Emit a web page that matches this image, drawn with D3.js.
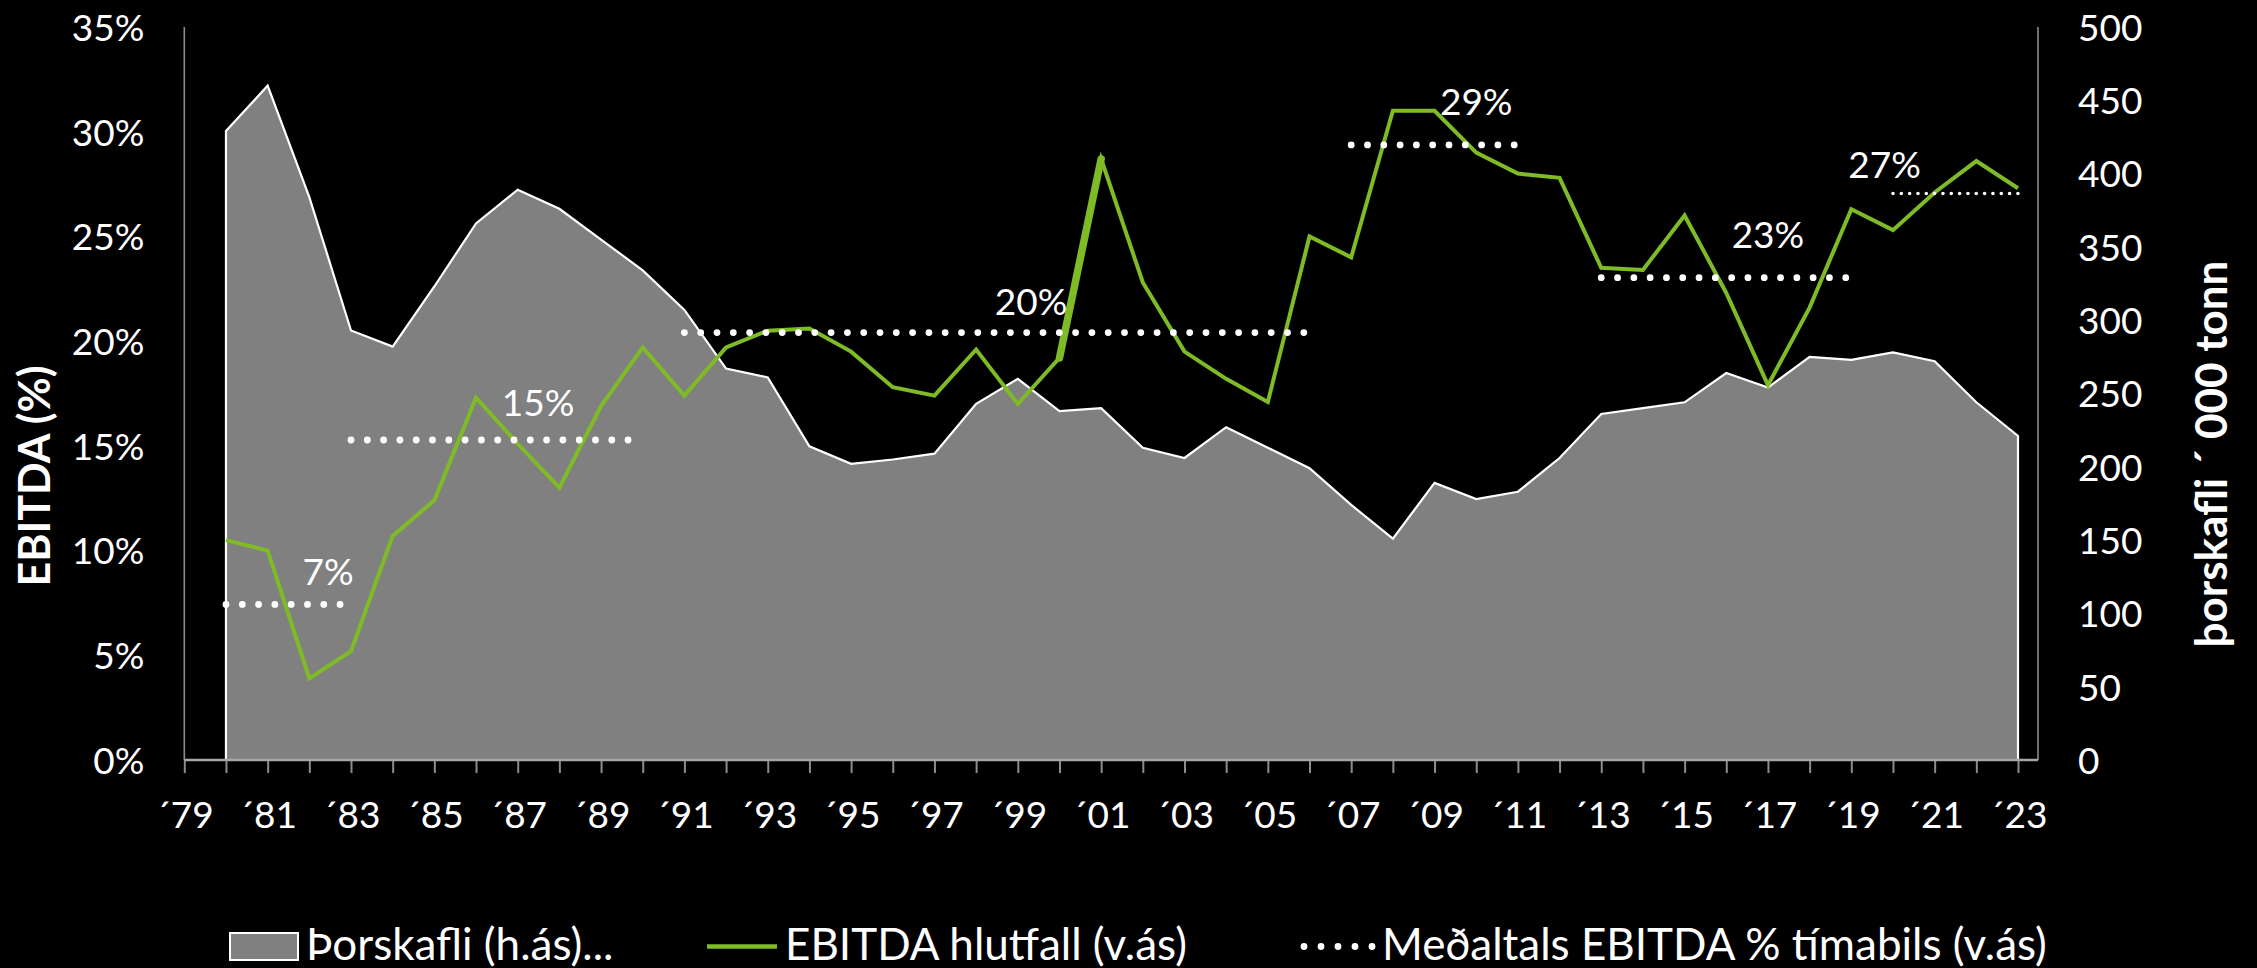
<!DOCTYPE html>
<html><head><meta charset="utf-8">
<script src="https://cdn.jsdelivr.net/npm/d3@7/dist/d3.min.js"></script>
<style>
html,body{margin:0;padding:0;background:#000;}
svg{display:block;font-family:Lato,"Open Sans",sans-serif;}
</style>
</head><body>
<svg id="chart" width="2257" height="968"></svg>
<script>
// ---------- DATA ----------
const years = [1980,1981,1982,1983,1984,1985,1986,1987,1988,1989,1990,1991,1992,1993,1994,1995,1996,1997,1998,1999,2000,2001,2002,2003,2004,2005,2006,2007,2008,2009,2010,2011,2012,2013,2014,2015,2016,2017,2018,2019,2020,2021,2022,2023];
// Þorskafli ('000 tonn), right axis
const codCatch = [429,460,384,293,282,323,366,389,376,355,334,307,267,261,214,202,205,209,243,260,238,240,213,206,227,213,199,174,151,189,178,183,206,236,240,244,264,254,275,273,278,272,244,221];
// EBITDA hlutfall (%), left axis
const ebitdaPct = [10.5,10.0,3.9,5.2,10.7,12.4,17.3,15.1,13.0,16.9,19.7,17.4,19.7,20.5,20.6,19.5,17.8,17.4,19.6,17.0,19.2,28.7,22.8,19.5,18.2,17.1,25.0,24.0,31.0,31.0,29.0,28.0,27.8,23.5,23.4,26.0,22.3,17.9,21.6,26.3,25.3,27.1,28.6,27.3];
// emphasised segment of the EBITDA line
const emphasisYears = [2000,2001];
// Meðaltals EBITDA % tímabils
const avgStart = [1980,1983,1991,2007,2013,2020];
const avgEnd   = [1983,1990,2006,2011,2019,2023];
const avgValue = [7.43,15.28,20.41,29.37,23.03,27.05];
const avgLabel = ["7%","15%","20%","29%","23%","27%"];
const avgLabelYear  = [1982.45,1987.49,1999.32,2010.0,2017.0,2019.8];
const avgLabelLevel = [8.99,17.05,21.88,31.43,25.07,28.41];
// axes
const leftTicks  = [0,5,10,15,20,25,30,35];
const rightTicks = [0,50,100,150,200,250,300,350,400,450,500];
const xTickYears  = d3.range(1979, 2024);
const xLabelYears = [1979,1981,1983,1985,1987,1989,1991,1993,1995,1997,1999,2001,2003,2005,2007,2009,2011,2013,2015,2017,2019,2021,2023];
const leftTitle  = "EBITDA (%)";
const rightTitle = "þorskafli ´ 000 tonn";
const legendNames = ["Þorskafli (h.ás)...","EBITDA hlutfall (v.ás)","Meðaltals EBITDA % tímabils (v.ás)"];

// ---------- LAYOUT ----------
const P = {left:184.3, right:2038, top:27, bottom:760};
const GREEN = "#7FBA27", GREY = "#808080";
const FONT = "Lato,'Open Sans',sans-serif";
const svg = d3.select("#chart");

const x  = d3.scaleLinear().domain([1979,2023]).range([P.left,2018]);
const yL = d3.scaleLinear().domain([0,35]).range([P.bottom,P.top]);
const yR = d3.scaleLinear().domain([0,500]).range([P.bottom,P.top]);

// area
const area = d3.area()
  .x((d,i)=>x(years[i]))
  .y0(yR(0))
  .y1(d=>yR(d));
svg.append("path").datum(codCatch)
  .attr("d",area).attr("fill",GREY)
  .attr("stroke","#fff").attr("stroke-width",2.2).attr("stroke-linejoin","miter");

// axis lines
svg.append("line").attr("x1",P.left).attr("x2",P.left).attr("y1",P.top).attr("y2",P.bottom)
  .attr("stroke","#8c8c8c").attr("stroke-width",1.6);
svg.append("line").attr("x1",P.right).attr("x2",P.right).attr("y1",P.top).attr("y2",P.bottom)
  .attr("stroke","#8c8c8c").attr("stroke-width",1.6);

// x axis
const xAxis = svg.append("g").attr("transform",`translate(0,${P.bottom})`)
  .call(d3.axisBottom(x).tickValues(xTickYears).tickSize(13)
    .tickFormat(d=> xLabelYears.includes(d) ? "´"+String(d).slice(2) : ""));
xAxis.select(".domain").remove();
xAxis.selectAll(".tick line").attr("stroke","#8c8c8c").attr("stroke-width",2);
xAxis.selectAll(".tick text").attr("y",68).attr("dy",0)
  .attr("fill","#fff").attr("font-size",37).attr("font-family",FONT);
svg.append("line").attr("x1",P.left).attr("x2",P.right).attr("y1",P.bottom).attr("y2",P.bottom)
  .attr("stroke","#a6a6a6").attr("stroke-width",2.4);

// left axis
const lAxis = svg.append("g").attr("transform",`translate(${P.left},0)`)
  .call(d3.axisLeft(yL).tickValues(leftTicks).tickSize(0).tickPadding(40).tickFormat(d=>d+"%"));
lAxis.select(".domain").remove();
lAxis.selectAll("text").attr("fill","#fff").attr("font-size",37).attr("dy","0.36em")
  .attr("font-family",FONT);

// right axis
const rAxis = svg.append("g").attr("transform",`translate(${P.right},0)`)
  .call(d3.axisRight(yR).tickValues(rightTicks).tickSize(0).tickPadding(40));
rAxis.select(".domain").remove();
rAxis.selectAll("text").attr("fill","#fff").attr("font-size",37).attr("dy","0.36em")
  .attr("font-family",FONT);

// EBITDA line
const line = d3.line().x((d,i)=>x(years[i])).y(d=>yL(d));
svg.append("path").datum(ebitdaPct).attr("d",line)
  .attr("fill","none").attr("stroke",GREEN).attr("stroke-width",4).attr("stroke-linejoin","miter");
const emph = years.map((y,i)=>({y, v:ebitdaPct[i]})).filter(d=>emphasisYears.includes(d.y));
svg.append("path").datum(emph)
  .attr("d",d3.line().x(d=>x(d.y)).y(d=>yL(d.v)))
  .attr("fill","none").attr("stroke",GREEN).attr("stroke-width",7.5).attr("stroke-linecap","round");

// average dotted lines
const lastIdx = avgStart.length-1;
avgStart.forEach((s,i)=>{
  const dense = i===lastIdx;
  svg.append("line")
    .attr("x1",x(s)).attr("x2",x(avgEnd[i]))
    .attr("y1",yL(avgValue[i])).attr("y2",yL(avgValue[i]))
    .attr("stroke","#fff").attr("stroke-width",dense?3.6:6.8)
    .attr("stroke-linecap","round")
    .attr("stroke-dasharray",dense?"0 8.33":"0 16.3");
  svg.append("text")
    .attr("x",x(avgLabelYear[i])).attr("y",yL(avgLabelLevel[i])).attr("dy","0.36em")
    .attr("text-anchor","middle").attr("fill","#fff").attr("font-size",37)
    .text(avgLabel[i]);
});

// axis titles
svg.append("text").attr("transform","translate(50,476) rotate(-90)")
  .attr("text-anchor","middle").attr("fill","#fff").attr("font-weight","bold")
  .attr("font-size",43).text(leftTitle);
svg.append("text").attr("transform","translate(2227,454) rotate(-90)")
  .attr("text-anchor","middle").attr("fill","#fff").attr("font-weight","bold")
  .attr("font-size",44).text(rightTitle);

// legend
const lg = svg.append("g");
lg.append("rect").attr("x",230).attr("y",933).attr("width",68).attr("height",27)
  .attr("fill",GREY).attr("stroke","#fff").attr("stroke-width",2);
lg.append("text").attr("x",306).attr("y",960).attr("fill","#fff").attr("font-size",44).text(legendNames[0]);
lg.append("line").attr("x1",707).attr("x2",777).attr("y1",946.5).attr("y2",946.5)
  .attr("stroke",GREEN).attr("stroke-width",4.5);
lg.append("text").attr("x",785).attr("y",960).attr("fill","#fff").attr("font-size",44).text(legendNames[1]);
lg.append("line").attr("x1",1304).attr("x2",1373).attr("y1",946.5).attr("y2",946.5)
  .attr("stroke","#fff").attr("stroke-width",6.8).attr("stroke-linecap","round").attr("stroke-dasharray","0 17");
lg.append("text").attr("x",1382).attr("y",960).attr("fill","#fff").attr("font-size",44).text(legendNames[2]);
</script>
</body></html>
